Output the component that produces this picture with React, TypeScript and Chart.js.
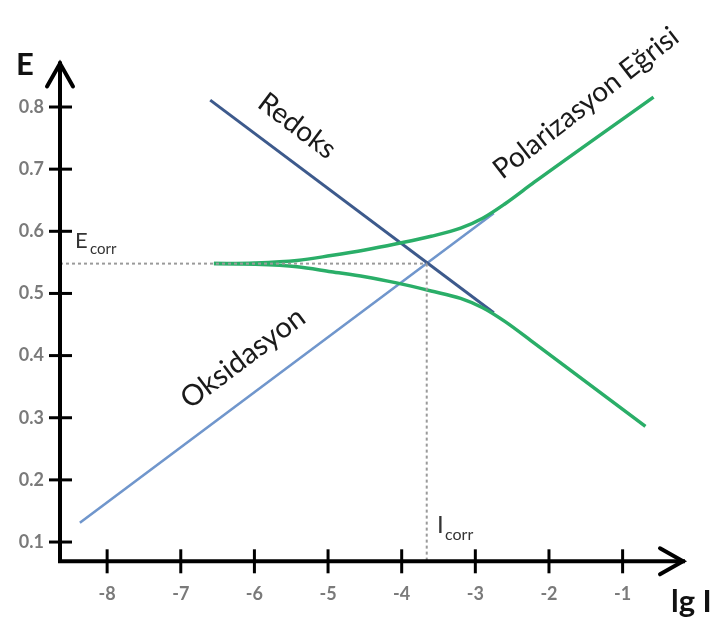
import React, { useEffect, useRef } from 'react';
import { Chart, registerables } from 'chart.js';

Chart.register(...registerables);

// ---- data ----
const xTicks = [-8, -7, -6, -5, -4, -3, -2, -1];
const yTicks = [0.1, 0.2, 0.3, 0.4, 0.5, 0.6, 0.7, 0.8];

const oxidationX = [-8.37, -2.75];
const oxidationE = [0.131, 0.629];

const redoxX = [-6.6, -2.75];
const redoxE = [0.811, 0.469];

const polUpperX = [-6.55, -6.0, -5.42, -4.96, -4.5, -4.07, -3.6, -3.2, -2.9, -2.6, -2.2, -0.58];
const polUpperE = [0.548, 0.549, 0.553, 0.561, 0.570, 0.580, 0.592, 0.605, 0.621, 0.644, 0.679, 0.816];

const polLowerX = [-6.55, -6.0, -5.42, -4.96, -4.5, -4.07, -3.6, -3.2, -2.9, -2.6, -2.2, -0.69];
const polLowerE = [0.548, 0.547, 0.543, 0.535, 0.527, 0.517, 0.504, 0.492, 0.477, 0.455, 0.420, 0.286];

const eCorr = 0.548;
const lgICorr = -3.66;

const xMin = -8.64;
const xMax = -0.18;
const yMin = 0.069;
const yMax = 0.87;

const pts = (xs: number[], ys: number[]) => xs.map((x, i) => ({ x, y: ys[i] }));

const FONT = 'Lato, "Open Sans", "DejaVu Sans", sans-serif';

const axesPlugin = {
  id: 'arrowAxes',
  afterDatasetsDraw(chart: any) {
    const ctx = chart.ctx as CanvasRenderingContext2D;
    const xs = chart.scales.x;
    const ys = chart.scales.y;
    const x0 = xs.getPixelForValue(xMin);
    const y0 = ys.getPixelForValue(yMin);
    const xEnd = xs.getPixelForValue(xMax);
    const yEnd = ys.getPixelForValue(yMax);
    ctx.save();
    ctx.strokeStyle = '#000';
    ctx.lineWidth = 4;
    ctx.lineCap = 'square';
    ctx.lineJoin = 'miter';
    ctx.beginPath();
    ctx.moveTo(x0, yEnd);
    ctx.lineTo(x0, y0);
    ctx.lineTo(xEnd, y0);
    ctx.stroke();
    // arrow heads
    ctx.lineCap = 'round';
    ctx.beginPath();
    ctx.moveTo(x0 - 13, yEnd + 23);
    ctx.lineTo(x0, yEnd);
    ctx.lineTo(x0 + 13, yEnd + 23);
    ctx.stroke();
    ctx.beginPath();
    ctx.moveTo(xEnd - 23, y0 - 13);
    ctx.lineTo(xEnd, y0);
    ctx.lineTo(xEnd - 23, y0 + 13);
    ctx.stroke();
    // tick crosses
    ctx.lineCap = 'butt';
    ctx.lineWidth = 3;
    yTicks.forEach((v) => {
      const py = ys.getPixelForValue(v);
      ctx.beginPath();
      ctx.moveTo(x0 - 11, py);
      ctx.lineTo(x0 + 12, py);
      ctx.stroke();
    });
    xTicks.forEach((v) => {
      const px = xs.getPixelForValue(v);
      ctx.beginPath();
      ctx.moveTo(px, y0 - 12);
      ctx.lineTo(px, y0 + 12);
      ctx.stroke();
    });
    // tick labels
    ctx.fillStyle = '#7a7a7a';
    ctx.font = `bold 18px ${FONT}`;
    ctx.textAlign = 'right';
    ctx.textBaseline = 'middle';
    yTicks.forEach((v) => {
      ctx.fillText(v.toFixed(1), x0 - 16, ys.getPixelForValue(v));
    });
    ctx.textAlign = 'center';
    xTicks.forEach((v) => {
      ctx.fillText(String(v), xs.getPixelForValue(v), y0 + 33);
    });

    // axis titles
    ctx.fillStyle = '#111';
    ctx.font = `bold 31px ${FONT}`;
    ctx.textAlign = 'left';
    ctx.textBaseline = 'alphabetic';
    ctx.fillText('E', 16, 75);
    ctx.fillText('lg I', 671, 612);

    // Ecorr / Icorr
    ctx.fillStyle = '#333';
    ctx.font = `22px ${FONT}`;
    ctx.fillText('E', 75, 248);
    ctx.font = `15px ${FONT}`;
    ctx.fillText('corr', 90, 254);
    ctx.font = `24px ${FONT}`;
    ctx.fillText('I', 437, 533);
    ctx.font = `16px ${FONT}`;
    ctx.fillText('corr', 445, 540);

    // rotated labels
    const rot = (text: string, cx: number, cy: number, deg: number, size: number) => {
      ctx.save();
      ctx.translate(cx, cy);
      ctx.rotate((deg * Math.PI) / 180);
      ctx.font = `${size}px ${FONT}`;
      ctx.fillStyle = '#1a1a1a';
      ctx.textAlign = 'center';
      ctx.textBaseline = 'middle';
      ctx.fillText(text, 0, 0);
      ctx.restore();
    };
    rot('Redoks', 297, 126, 37, 28);
    rot('Oksidasyon', 243, 358, -37, 29);
    rot('Polarizasyon Eğrisi', 586, 103, -38, 28);
    ctx.restore();
  },
};

export default function App() {
  const ref = useRef<HTMLCanvasElement | null>(null);
  useEffect(() => {
    if (!ref.current) return;
    const chart = new Chart(ref.current, {
      type: 'line',
      data: {
        datasets: [
          {
            label: 'Ecorr',
            data: pts([xMin, lgICorr], [eCorr, eCorr]),
            borderColor: '#9a9a9a',
            borderWidth: 2,
            borderDash: [3, 3],
            pointRadius: 0,
            order: 0,
            clip: false as any,
          },
          {
            label: 'Icorr',
            data: pts([lgICorr, lgICorr], [eCorr, yMin]),
            borderColor: '#9a9a9a',
            borderWidth: 2,
            borderDash: [3, 3],
            pointRadius: 0,
            order: 0,
            clip: false as any,
          },
          {
            label: 'Polarizasyon üst',
            data: pts(polUpperX, polUpperE),
            borderColor: '#2aae68',
            borderWidth: 3.5,
            pointRadius: 0,
            cubicInterpolationMode: 'monotone',
            order: 1,
            clip: false as any,
          },
          {
            label: 'Polarizasyon alt',
            data: pts(polLowerX, polLowerE),
            borderColor: '#2aae68',
            borderWidth: 3.5,
            pointRadius: 0,
            cubicInterpolationMode: 'monotone',
            order: 1,
            clip: false as any,
          },
          {
            label: 'Redoks',
            data: pts(redoxX, redoxE),
            borderColor: '#3d5a8c',
            borderWidth: 3,
            pointRadius: 0,
            order: 2,
            clip: false as any,
          },
          {
            label: 'Oksidasyon',
            data: pts(oxidationX, oxidationE),
            borderColor: '#7096cc',
            borderWidth: 2.6,
            pointRadius: 0,
            order: 3,
            clip: false as any,
          },
        ],
      },
      options: {
        animation: false,
        responsive: false,
        maintainAspectRatio: false,
        layout: { padding: { left: 60, right: 33, top: 63.5, bottom: 63.7 } },
        plugins: { legend: { display: false }, tooltip: { enabled: false } },
        scales: {
          x: { type: 'linear', min: xMin, max: xMax, display: false },
          y: { type: 'linear', min: yMin, max: yMax, display: false },
        },
        events: [],
      },
      plugins: [axesPlugin],
    });
    return () => chart.destroy();
  }, []);
  return (
    <div style={{ position: 'fixed', left: 0, top: 0, width: 716, height: 625, background: '#fff' }}>
      <canvas ref={ref} width={716} height={625} />
    </div>
  );
}
